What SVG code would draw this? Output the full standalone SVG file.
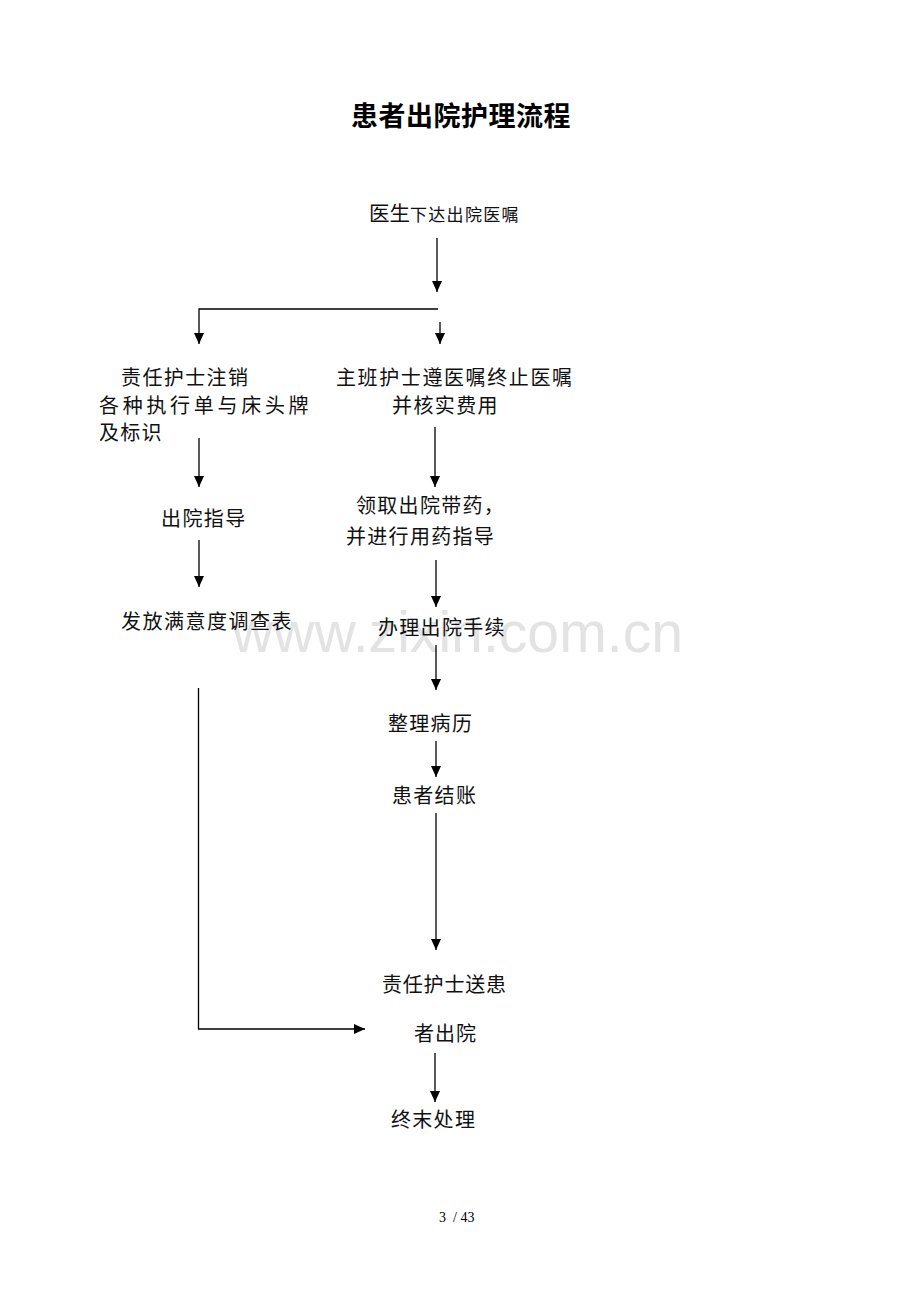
<svg xmlns="http://www.w3.org/2000/svg" width="920" height="1302" viewBox="0 0 920 1302">
<style>
.t{font-family:"Noto Sans CJK SC","Noto Sans",sans-serif;font-size:20px;fill:#111}
.ln{stroke:#000;stroke-width:1.3;fill:none}
.ar{stroke:#000;stroke-width:1.3;fill:none;marker-end:url(#ah)}
</style>
<defs>
<marker id="ah" markerUnits="userSpaceOnUse" markerWidth="12" markerHeight="10" refX="11" refY="5" orient="auto" viewBox="0 0 12 10">
<path d="M0,0 L11,5 L0,10 Z" fill="#000"/>
</marker>
</defs>
<rect width="920" height="1302" fill="#fff"/>
<text x="232" y="652" font-family="Liberation Sans, Arial, sans-serif" font-size="57" fill="#e3e3e3" textLength="451" lengthAdjust="spacingAndGlyphs">www.zixin.com.cn</text>
<text x="461" y="126" text-anchor="middle" font-family="Noto Sans CJK SC, sans-serif" font-size="27" font-weight="bold" fill="#000" letter-spacing="0.5">患者出院护理流程</text>
<g id="connectors">
<line class="ar" x1="437" y1="238" x2="437" y2="292"/>
<polyline class="ar" points="438,309 199,309 199,344"/>
<line class="ar" x1="440" y1="322" x2="440" y2="344"/>
<line class="ar" x1="199" y1="438" x2="199" y2="487"/>
<line class="ar" x1="435" y1="427" x2="435" y2="487"/>
<line class="ar" x1="199" y1="540" x2="199" y2="587"/>
<line class="ar" x1="436" y1="560" x2="436" y2="607"/>
<line class="ar" x1="436" y1="645" x2="436" y2="690"/>
<line class="ar" x1="436" y1="741" x2="436" y2="777"/>
<line class="ar" x1="436" y1="813" x2="436" y2="950"/>
<polyline class="ar" points="198.5,688 198.5,1029 365,1029"/>
<line class="ar" x1="435" y1="1053" x2="435" y2="1102"/>
</g>
<g id="n1"><text class="t" x="369" y="221"><tspan font-size="20.5">医生</tspan><tspan font-size="17" letter-spacing="1.3">下达出院医嘱</tspan></text></g>
<g id="n2"><text class="t" x="121" y="385" letter-spacing="1.4">责任护士注销</text><text class="t" x="99" y="413" letter-spacing="3.7">各种执行单与床头牌</text><text class="t" x="99" y="440" letter-spacing="1.2">及标识</text></g>
<g id="n3"><text class="t" x="336" y="385" letter-spacing="1.6">主班护士遵医嘱终止医嘱</text><text class="t" x="392" y="413" letter-spacing="1.4">并核实费用</text></g>
<g id="n4"><text class="t" x="161" y="526" letter-spacing="1.4">出院指导</text></g>
<g id="n5"><text class="t" x="356" y="513" letter-spacing="1.3">领取出院带药，</text><text class="t" x="346" y="544" letter-spacing="1.3">并进行用药指导</text></g>
<g id="n6"><text class="t" x="121" y="629" letter-spacing="1.5">发放满意度调查表</text></g>
<g id="n7"><text class="t" x="378" y="635" letter-spacing="1.3">办理出院手续</text></g>
<g id="n8"><text class="t" x="388" y="731" letter-spacing="1.3">整理病历</text></g>
<g id="n9"><text class="t" x="392" y="803" letter-spacing="1.3">患者结账</text></g>
<g id="n10"><text class="t" x="382" y="992" letter-spacing="0.8">责任护士送患</text><text class="t" x="414" y="1041" letter-spacing="1">者出院</text></g>
<g id="n11"><text class="t" x="391" y="1127" letter-spacing="1.3">终末处理</text></g>
<text x="439" y="1222" font-family="Liberation Serif, serif" font-size="14" fill="#000" xml:space="preserve">3  / 43</text>
</svg>
